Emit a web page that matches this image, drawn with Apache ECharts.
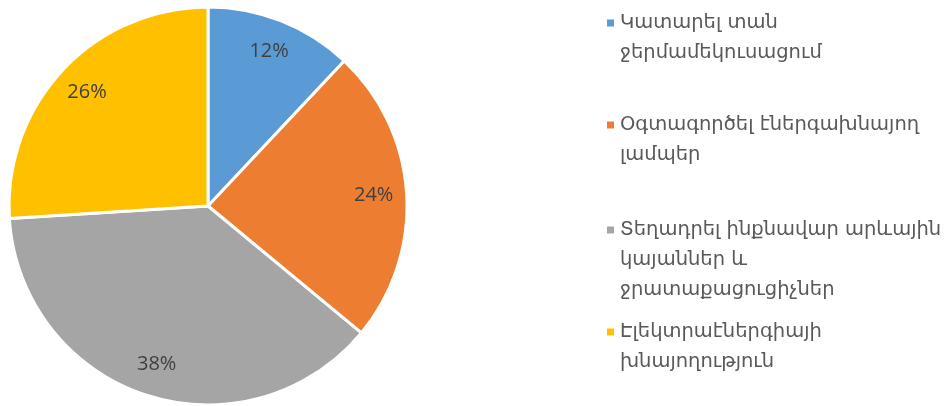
<!DOCTYPE html>
<html>
<head>
<meta charset="utf-8">
<script src="https://cdn.jsdelivr.net/npm/echarts@6/dist/echarts.min.js"></script>
<style>
  html, body { margin: 0; padding: 0; background: #fff; }
  #chart { width: 950px; height: 406px; }
</style>
</head>
<body>
<div id="chart"></div>
<script>
// categories (line breaks as in the legend of the reference)
const names = [
    'Կատարել տան\nջերմամեկուսացում',
    'Օգտագործել էներգախնայող\nլամպեր',
    'Տեղադրել ինքնավար արևային\nկայաններ և\nջրատաքացուցիչներ',
    'Էլեկտրաէներգիայի\nխնայողություն'
];
const values = [12, 24, 38, 26];
const colors = ['#5B9BD5', '#ED7D31', '#A5A5A5', '#FFC000'];

const chart = echarts.init(document.getElementById('chart'));

const LH = 30;                       // legend line height
const firstLineY = [23, 125, 230, 332]; // y of each legend entry's first line

const pieData = names.map((n, i) => ({ name: n, value: values[i] }));

// legend text is centred on its marker, so pad with blank lines above
// to keep the marker level with the first line
const legends = names.map((n, i) => {
    const lines = n.split('\n').length;
    return {
        orient: 'vertical',
        left: 605,
        top: firstLineY[i] - (2 * lines - 1) * LH / 2,
        padding: 0,
        icon: 'rect',
        itemWidth: 9,
        itemHeight: 9,
        itemGap: 0,
        data: [n],
        formatter: s => '\n'.repeat(lines - 1) + s,
        textStyle: { fontFamily: 'DejaVu Sans', fontSize: 19.5, color: '#595959', lineHeight: LH }
    };
});

chart.setOption({
    animation: false,
    color: colors,
    legend: legends,
    series: [
        {
            type: 'pie',
            center: [208, 206],
            radius: 199,
            startAngle: 90,
            clockwise: true,
            label: { show: false },
            labelLine: { show: false },
            emphasis: { disabled: true },
            itemStyle: { borderColor: '#fff', borderWidth: 3 },
            data: pieData
        },
        {
            // transparent ring that only carries the percent labels
            type: 'pie',
            center: [208, 206],
            radius: [127, 199],
            startAngle: 90,
            clockwise: true,
            silent: true,
            legendHoverLink: false,
            itemStyle: { color: 'rgba(0,0,0,0)' },
            label: {
                show: true,
                position: 'inside',
                formatter: '{d}%',
                fontFamily: 'Open Sans',
                fontSize: 20,
                color: '#404040'
            },
            labelLine: { show: false },
            emphasis: { disabled: true },
            data: pieData
        }
    ]
});

window.onresize = () => chart.resize();
</script>
</body>
</html>
